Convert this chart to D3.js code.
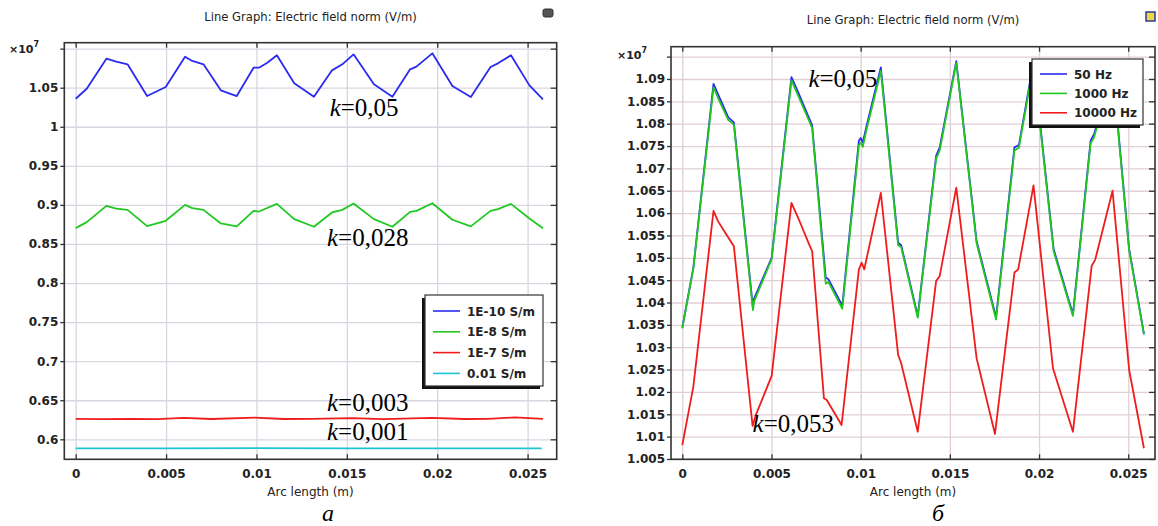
<!DOCTYPE html>
<html>
<head>
<meta charset="utf-8">
<script src="https://cdn.jsdelivr.net/npm/d3@7"></script>
<style>
  body { margin: 0; background: #fff; }
  svg { display: block; }
</style>
</head>
<body>
<svg id="chart" width="1158" height="526"></svg>
<script>
// ---------- data: arc length (m) vs electric field norm (x10^7 V/m) ----------

// panel (a): conductivity variants
const condLabels = ["1E-10 S/m", "1E-8 S/m", "1E-7 S/m", "0.01 S/m"];
const cond1e10 = [
  [0, 1.0359], [0.00061, 1.0487], [0.0017, 1.0872], [0.00225, 1.0833], [0.00287, 1.0799],
  [0.00395, 1.0393], [0.00498, 1.0509], [0.00605, 1.0897], [0.00645, 1.0842], [0.00707, 1.0799],
  [0.00803, 1.0466], [0.00891, 1.0393], [0.00984, 1.0756], [0.01014, 1.0756], [0.0106, 1.082],
  [0.01113, 1.0915], [0.01209, 1.0556], [0.01318, 1.0385], [0.01418, 1.0722], [0.01475, 1.0799],
  [0.01537, 1.0927], [0.0165, 1.0543], [0.01752, 1.0385], [0.0185, 1.0735], [0.01885, 1.077],
  [0.01973, 1.094], [0.02084, 1.0521], [0.02186, 1.038], [0.02295, 1.0765], [0.02336, 1.0812],
  [0.02408, 1.0915], [0.0251, 1.053], [0.02585, 1.035]
];
const cond1e8 = [
  [0, 0.8703], [0.00061, 0.878], [0.0017, 0.8987], [0.00225, 0.8953], [0.00287, 0.8936],
  [0.00395, 0.8729], [0.00498, 0.8797], [0.00605, 0.9], [0.00645, 0.8958], [0.00707, 0.8936],
  [0.00803, 0.8763], [0.00891, 0.8725], [0.00984, 0.8924], [0.01014, 0.8915], [0.01113, 0.9013],
  [0.01209, 0.8818], [0.01318, 0.872], [0.01418, 0.8903], [0.01475, 0.8936], [0.01537, 0.9017],
  [0.0165, 0.8818], [0.01752, 0.872], [0.0185, 0.8911], [0.01885, 0.8924], [0.01973, 0.9021],
  [0.02084, 0.881], [0.02186, 0.8725], [0.02295, 0.8924], [0.02336, 0.8945], [0.02408, 0.9013],
  [0.0251, 0.8826], [0.02585, 0.87]
];
const cond1e7 = [
  [0, 0.6262], [0.0015, 0.6258], [0.003, 0.6262], [0.0045, 0.6258], [0.006, 0.6275],
  [0.0075, 0.626], [0.0099, 0.6278], [0.0115, 0.626], [0.013, 0.6262], [0.0153, 0.627],
  [0.017, 0.6258], [0.0197, 0.6275], [0.0215, 0.626], [0.0228, 0.6262], [0.0243, 0.628],
  [0.02585, 0.6262]
];
const cond1e2 = [
  [0, 0.5885], [0.005, 0.5885], [0.01, 0.5886], [0.015, 0.5885], [0.02, 0.5885], [0.02578, 0.5885]
];

// panel (b): frequency variants
const freqLabels = ["50 Hz", "1000 Hz", "10000 Hz"];
const freq50 = [
  [0, 1.0344], [0.00062, 1.0478], [0.00175, 1.0889], [0.002, 1.0866], [0.00258, 1.0814],
  [0.00289, 1.0803], [0.00396, 1.0389], [0.00402, 1.0408], [0.00501, 1.05], [0.00612, 1.0904],
  [0.0065, 1.087], [0.00711, 1.0812], [0.00728, 1.0796], [0.00804, 1.0456], [0.00819, 1.0452],
  [0.00897, 1.0393], [0.0099, 1.0762], [0.01, 1.0768], [0.01012, 1.0758], [0.0103, 1.079],
  [0.01113, 1.0926], [0.0121, 1.0534], [0.01227, 1.0528], [0.0132, 1.037], [0.01423, 1.0728],
  [0.01443, 1.0747], [0.01536, 1.094], [0.0165, 1.0537], [0.01759, 1.0367], [0.01862, 1.0747],
  [0.01887, 1.0752], [0.01969, 1.0938], [0.02082, 1.0519], [0.0219, 1.0374], [0.02289, 1.0762],
  [0.02309, 1.0777], [0.02412, 1.0925], [0.02505, 1.052], [0.02588, 1.033]
];
const freq1000 = [
  [0, 1.0342], [0.00062, 1.0476], [0.00175, 1.0881], [0.002, 1.0858], [0.00258, 1.0808],
  [0.00289, 1.0798], [0.00396, 1.0383], [0.00402, 1.0402], [0.00501, 1.0497], [0.00612, 1.0897],
  [0.0065, 1.0862], [0.00711, 1.0806], [0.00728, 1.079], [0.00804, 1.0442], [0.00819, 1.0446],
  [0.00897, 1.0386], [0.0099, 1.0752], [0.01, 1.0758], [0.01012, 1.0748], [0.0103, 1.0782],
  [0.01113, 1.0918], [0.0121, 1.0528], [0.01227, 1.0524], [0.0132, 1.0366], [0.01423, 1.0722],
  [0.01443, 1.074], [0.01536, 1.0936], [0.0165, 1.0532], [0.01759, 1.0362], [0.01862, 1.074],
  [0.01887, 1.0746], [0.01969, 1.0932], [0.02082, 1.0514], [0.0219, 1.037], [0.02289, 1.0756],
  [0.02309, 1.077], [0.02412, 1.0919], [0.02505, 1.0516], [0.02588, 1.0328]
];
const freq10000 = [
  [0, 1.0081], [0.00062, 1.0212], [0.00175, 1.0605], [0.002, 1.0582], [0.00247, 1.0552],
  [0.00289, 1.0526], [0.00394, 1.0124], [0.00412, 1.0148], [0.00501, 1.0236], [0.00612, 1.0623],
  [0.0065, 1.0589], [0.00711, 1.053], [0.00728, 1.0515], [0.00794, 1.0186], [0.0081, 1.0182],
  [0.00893, 1.0126], [0.0099, 1.0474], [0.01006, 1.0489], [0.0102, 1.0474], [0.01113, 1.0645],
  [0.0121, 1.0283], [0.01227, 1.0264], [0.0132, 1.0111], [0.01423, 1.0448], [0.01443, 1.0459],
  [0.01536, 1.0657], [0.0165, 1.0275], [0.01753, 1.0106], [0.01862, 1.0467], [0.01883, 1.0474],
  [0.01969, 1.0662], [0.02078, 1.0253], [0.0219, 1.0111], [0.02295, 1.0482], [0.02315, 1.0496],
  [0.02412, 1.065], [0.02505, 1.0249], [0.02588, 1.0074]
];

// axis ticks
const xTicks = [0, 0.005, 0.01, 0.015, 0.02, 0.025];
const yTicksA = [0.6, 0.65, 0.7, 0.75, 0.8, 0.85, 0.9, 0.95, 1, 1.05, 1.1];
const yTicksB = [1.005, 1.01, 1.015, 1.02, 1.025, 1.03, 1.035, 1.04, 1.045, 1.05, 1.055,
                 1.06, 1.065, 1.07, 1.075, 1.08, 1.085, 1.09, 1.095];

// annotations (ripple coefficients)
const notesA = [
  { k: "0,05",  x: 0.01405, y: 1.0138 },
  { k: "0,028", x: 0.01390, y: 0.8471 },
  { k: "0,003", x: 0.01390, y: 0.6367 },
  { k: "0,001", x: 0.01390, y: 0.5996 }
];
const notesB = [
  { k: "0,05",  x: 0.00707, y: 1.0882 },
  { k: "0,053", x: 0.00394, y: 1.0110 }
];

const titleText = "Line Graph: Electric field norm (V/m)";
const xLabelText = "Arc length (m)";

// ---------- drawing ----------
const svg = d3.select("#chart");
const sans = '"DejaVu Sans", sans-serif';
const serif = '"Liberation Serif", "Times New Roman", serif';
const fmt = v => String(+v.toFixed(4));

function drawPanel(cfg) {
  const { left, right, top, bottom } = cfg.box;
  const x = d3.scaleLinear().domain(cfg.xDomain).range([left, right]);
  const y = d3.scaleLinear().domain(cfg.yDomain).range([bottom, top]);
  const g = svg.append("g");

  // title
  g.append("text").attr("x", (left + right) / 2).attr("y", cfg.titleY)
    .attr("text-anchor", "middle").attr("font-family", sans).attr("font-size", 11.6)
    .attr("fill", "#222").text(titleText);

  // grid
  const grid = g.append("g");
  grid.append("g").attr("transform", `translate(0,${bottom})`)
    .call(d3.axisBottom(x).tickValues(xTicks).tickSize(-(bottom - top)).tickFormat(""))
    .call(s => s.select(".domain").remove())
    .selectAll("line").attr("stroke", cfg.gridColor).attr("stroke-width", 1.3);
  grid.append("g").attr("transform", `translate(${left},0)`)
    .call(d3.axisLeft(y).tickValues(cfg.yTicks).tickSize(-(right - left)).tickFormat(""))
    .call(s => s.select(".domain").remove())
    .selectAll("line").attr("stroke", cfg.gridColor).attr("stroke-width", 1.3);

  // series
  const line = d3.line().x(d => x(d[0])).y(d => y(d[1]));
  cfg.series.forEach(s => {
    g.append("path").datum(s.data).attr("d", line)
      .attr("fill", "none").attr("stroke", s.color).attr("stroke-width", 1.8)
      .attr("stroke-linejoin", "round");
  });

  // frame
  g.append("rect").attr("x", left).attr("y", top)
    .attr("width", right - left).attr("height", bottom - top)
    .attr("fill", "none").attr("stroke", "#333").attr("stroke-width", 1.6);

  // bottom axis (inward ticks, labels below)
  const ax = g.append("g").attr("transform", `translate(0,${bottom})`)
    .call(d3.axisBottom(x).tickValues(xTicks).tickSizeInner(-5).tickSizeOuter(0)
      .tickPadding(10).tickFormat(fmt));
  ax.select(".domain").remove();
  ax.selectAll("line").attr("stroke", "#333").attr("stroke-width", 1.3);
  ax.selectAll("text").attr("font-family", sans).attr("font-size", 12)
    .attr("font-weight", "bold").attr("fill", "#222");

  // top axis ticks (inward)
  const at = g.append("g").attr("transform", `translate(0,${top})`)
    .call(d3.axisTop(x).tickValues(xTicks).tickSizeInner(-5).tickSizeOuter(0).tickFormat(""));
  at.select(".domain").remove();
  at.selectAll("line").attr("stroke", "#333").attr("stroke-width", 1.3);

  // left axis (labels, topmost label replaced by the exponent)
  const last = cfg.yTicks[cfg.yTicks.length - 1];
  const al = g.append("g").attr("transform", `translate(${left},0)`)
    .call(d3.axisLeft(y).tickValues(cfg.yTicks).tickSizeInner(4).tickSizeOuter(0)
      .tickPadding(2).tickFormat(v => v === last ? "" : fmt(v)));
  al.select(".domain").remove();
  al.selectAll("line").attr("stroke", "#333").attr("stroke-width", 1.3);
  al.selectAll("text").attr("font-family", sans).attr("font-size", 12)
    .attr("font-weight", "bold").attr("fill", "#222");

  // right axis ticks (inward)
  const ar = g.append("g").attr("transform", `translate(${right},0)`)
    .call(d3.axisRight(y).tickValues(cfg.yTicks).tickSizeInner(-6).tickSizeOuter(0).tickFormat(""));
  ar.select(".domain").remove();
  ar.selectAll("line").attr("stroke", "#333").attr("stroke-width", 1.3);

  // exponent label
  const ex = g.append("text").attr("x", cfg.expPos[0]).attr("y", cfg.expPos[1])
    .attr("font-family", sans).attr("font-size", 11).attr("font-weight", "bold").attr("fill", "#222");
  ex.append("tspan").text("\u00d710");
  ex.append("tspan").attr("dy", -6).attr("font-size", 8).text("7");

  // x axis label
  g.append("text").attr("x", (left + right) / 2).attr("y", cfg.xLabelY)
    .attr("text-anchor", "middle").attr("font-family", sans).attr("font-size", 12)
    .attr("fill", "#222").text(xLabelText);

  // legend
  const L = cfg.legend;
  const lg = g.append("g");
  lg.append("rect").attr("x", L.x - 3).attr("y", L.y + 3).attr("width", L.w).attr("height", L.h)
    .attr("fill", "#111");
  lg.append("rect").attr("x", L.x).attr("y", L.y).attr("width", L.w).attr("height", L.h)
    .attr("fill", "#fff").attr("stroke", "#333").attr("stroke-width", 1.2);
  cfg.series.forEach((s, i) => {
    const cy = L.y + L.row0 + i * L.step;
    lg.append("line").attr("x1", L.x + 8).attr("x2", L.x + 35).attr("y1", cy).attr("y2", cy)
      .attr("stroke", s.color).attr("stroke-width", 1.6);
    lg.append("text").attr("x", L.x + 42).attr("y", cy + 4.5)
      .attr("font-family", sans).attr("font-size", 12).attr("font-weight", "bold")
      .attr("fill", "#222").text(s.label);
  });

  // annotations
  cfg.notes.forEach(n => {
    const t = g.append("text").attr("x", x(n.x)).attr("y", y(n.y))
      .attr("font-family", serif).attr("font-size", 25).attr("fill", "#000");
    t.append("tspan").attr("font-style", "italic").text("k");
    t.append("tspan").text("=" + n.k);
  });

  // panel caption
  g.append("text").attr("x", cfg.caption.x).attr("y", 521).attr("text-anchor", "middle")
    .attr("font-family", serif).attr("font-size", 24).attr("font-style", "italic")
    .attr("fill", "#000").text(cfg.caption.text);

  return g;
}

drawPanel({
  box: { left: 64.3, right: 556.7, top: 42.7, bottom: 459.3 },
  xDomain: [-0.00063, 0.02661],
  yDomain: [0.5744, 1.1076],
  yTicks: yTicksA,
  gridColor: "#d9d6e2",
  titleY: 21,
  expPos: [9, 53],
  xLabelY: 496,
  series: [
    { label: condLabels[0], color: "#2b2bf0", data: cond1e10 },
    { label: condLabels[1], color: "#22c822", data: cond1e8 },
    { label: condLabels[2], color: "#f01c1c", data: cond1e7 },
    { label: condLabels[3], color: "#1cc4d4", data: cond1e2 }
  ],
  legend: { x: 425, y: 295, w: 118, h: 91, row0: 16, step: 20.8 },
  notes: notesA,
  caption: { x: 328, text: "а" }
});

drawPanel({
  box: { left: 671, right: 1155, top: 46.7, bottom: 459.3 },
  xDomain: [-0.000633, 0.0265],
  yDomain: [1.00493, 1.09722],
  yTicks: yTicksB,
  gridColor: "#e2cfd6",
  titleY: 24,
  expPos: [617, 59],
  xLabelY: 496,
  series: [
    { label: freqLabels[0], color: "#2b2bf0", data: freq50 },
    { label: freqLabels[1], color: "#22c822", data: freq1000 },
    { label: freqLabels[2], color: "#f01c1c", data: freq10000 }
  ],
  legend: { x: 1032, y: 59, w: 111, h: 66, row0: 15, step: 19.4 },
  notes: notesB,
  caption: { x: 938, text: "б" }
});

// small window icons in the title bars
svg.append("rect").attr("x", 543).attr("y", 9).attr("width", 10).attr("height", 8).attr("rx", 2)
  .attr("fill", "#555").attr("stroke", "#333");
svg.append("rect").attr("x", 1146).attr("y", 12).attr("width", 9).attr("height", 9)
  .attr("fill", "#e8d84a").attr("stroke", "#2a3a9a").attr("stroke-width", 1.5);
</script>
</body>
</html>
